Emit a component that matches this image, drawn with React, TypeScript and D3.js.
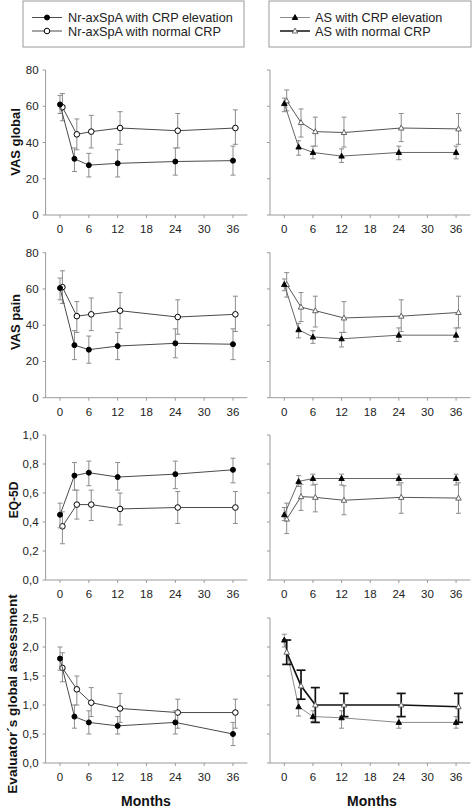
import React from "react";
import * as d3 from "d3";

// ---------- data ----------
const MONTHS = [0, 3, 6, 12, 24, 36];
const NORMAL_SHIFT = 0.5; // plotted slightly right of the nominal month
const X_TICKS = [0, 6, 12, 18, 24, 30, 36];

const LEGEND_LEFT = ["Nr-axSpA with CRP elevation", "Nr-axSpA with normal CRP"];
const LEGEND_RIGHT = ["AS with CRP elevation", "AS with normal CRP"];
const ROW_TITLES = ["VAS global", "VAS pain", "EQ-5D", "Evaluator\u00b4s global assessment"];
const X_TITLE = "Months";

const VAS_TICKS = [0, 20, 40, 60, 80];
const EQ_TICKS = [0, 0.2, 0.4, 0.6, 0.8, 1.0];
const EVAL_TICKS = [0, 0.5, 1.0, 1.5, 2.0, 2.5];

// VAS global
const vasGlobalNrCrp = [61, 31, 27.5, 28.5, 29.5, 30];
const vasGlobalNrCrpLo = [56, 24, 21, 21, 22, 22];
const vasGlobalNrCrpHi = [66, 37, 34, 36, 37, 38];
const vasGlobalNrNorm = [59.5, 44.5, 46, 48, 46.5, 48];
const vasGlobalNrNormLo = [52, 36, 37, 39, 37, 39];
const vasGlobalNrNormHi = [67, 53, 55, 57, 56, 58];
const vasGlobalAsCrp = [61.5, 37.5, 34.5, 32.5, 34.5, 34.5];
const vasGlobalAsCrpLo = [57, 33, 31, 29, 30.5, 31];
const vasGlobalAsCrpHi = [64.5, 41, 38, 36.5, 38, 38];
const vasGlobalAsNorm = [63, 51, 46, 45.5, 48, 47.5];
const vasGlobalAsNormLo = [57.5, 43, 38, 37.5, 40.5, 39];
const vasGlobalAsNormHi = [69, 58.5, 54, 54, 56, 56];

// VAS pain
const vasPainNrCrp = [60.5, 29, 26.5, 28.5, 30, 29.5];
const vasPainNrCrpLo = [54, 21, 19, 21, 22, 21];
const vasPainNrCrpHi = [66, 37, 34, 36, 38, 38];
const vasPainNrNorm = [61, 45, 46, 48, 44.5, 46];
const vasPainNrNormLo = [52, 36, 37, 38, 35, 36.5];
const vasPainNrNormHi = [70, 53, 55, 58, 54, 56];
const vasPainAsCrp = [62.5, 37.5, 33.5, 32.5, 34.5, 34.5];
const vasPainAsCrpLo = [59, 33, 30, 28, 31, 31];
const vasPainAsCrpHi = [65.5, 41, 37, 36, 38.5, 38.5];
const vasPainAsNorm = [62.5, 50, 48, 44, 45, 47];
const vasPainAsNormLo = [55.5, 42, 39, 36, 36.5, 38.5];
const vasPainAsNormHi = [69, 58, 56, 53, 54, 56];

// EQ-5D
const eqNrCrp = [0.45, 0.72, 0.74, 0.71, 0.73, 0.76];
const eqNrCrpLo = [0.36, 0.62, 0.65, 0.62, 0.63, 0.67];
const eqNrCrpHi = [0.53, 0.81, 0.82, 0.81, 0.82, 0.84];
const eqNrNorm = [0.37, 0.52, 0.52, 0.49, 0.5, 0.5];
const eqNrNormLo = [0.25, 0.42, 0.41, 0.38, 0.39, 0.39];
const eqNrNormHi = [0.47, 0.62, 0.62, 0.6, 0.61, 0.61];
const eqAsCrp = [0.45, 0.68, 0.7, 0.7, 0.7, 0.7];
const eqAsCrpLo = [0.41, 0.645, 0.655, 0.655, 0.655, 0.655];
const eqAsCrpHi = [0.5, 0.72, 0.73, 0.73, 0.73, 0.73];
const eqAsNorm = [0.42, 0.575, 0.57, 0.55, 0.57, 0.565];
const eqAsNormLo = [0.32, 0.48, 0.47, 0.45, 0.46, 0.46];
const eqAsNormHi = [0.53, 0.66, 0.66, 0.65, 0.67, 0.67];

// Evaluator's global assessment
const evalNrCrp = [1.8, 0.8, 0.7, 0.64, 0.7, 0.5];
const evalNrCrpLo = [1.6, 0.6, 0.5, 0.5, 0.5, 0.3];
const evalNrCrpHi = [2.0, 1.0, 0.9, 0.8, 0.9, 0.7];
const evalNrNorm = [1.64, 1.27, 1.04, 0.94, 0.87, 0.87];
const evalNrNormLo = [1.4, 1.0, 0.8, 0.7, 0.6, 0.6];
const evalNrNormHi = [1.9, 1.5, 1.3, 1.2, 1.1, 1.1];
const evalAsCrp = [2.12, 0.97, 0.8, 0.78, 0.7, 0.7];
const evalAsCrpLo = [2.0, 0.81, 0.71, 0.6, 0.6, 0.6];
const evalAsCrpHi = [2.22, 1.1, 0.9, 0.9, 0.8, 0.8];
const evalAsNorm = [1.91, 1.33, 1.0, 1.0, 1.0, 0.97];
const evalAsNormLo = [1.7, 1.1, 0.7, 0.8, 0.8, 0.7];
const evalAsNormHi = [2.12, 1.6, 1.3, 1.2, 1.2, 1.2];

// ---------- styles ----------
const FONT = "Arial, 'Liberation Sans', Helvetica, sans-serif";
const AXIS = "#9a9a9a";
const ERR = "#8c8c8c";
const LINE = "#4a4a4a";

type Style = {
  marker: "circle" | "triangle";
  fill: string;
  line: string;
  lineWidth: number;
  err: string;
  errWidth: number;
  cap: number;
};

const sFilledCircle: Style = { marker: "circle", fill: "#000", line: LINE, lineWidth: 1, err: ERR, errWidth: 1, cap: 2.5 };
const sOpenCircle: Style = { marker: "circle", fill: "#fff", line: LINE, lineWidth: 1, err: ERR, errWidth: 1, cap: 2.5 };
const sFilledTri: Style = { marker: "triangle", fill: "#000", line: "#666", lineWidth: 1, err: ERR, errWidth: 1, cap: 2.5 };
const sOpenTri: Style = { marker: "triangle", fill: "#fff", line: "#555", lineWidth: 1, err: ERR, errWidth: 1, cap: 2.5 };
const sFilledTriGray: Style = { marker: "triangle", fill: "#000", line: "#8a8a8a", lineWidth: 1, err: ERR, errWidth: 1, cap: 2.5 };
const sOpenTriBold: Style = { marker: "triangle", fill: "#fff", line: "#111", lineWidth: 1.7, err: "#111", errWidth: 1.7, cap: 4.5 };

type Series = { v: number[]; lo: number[]; hi: number[]; shift: number; style: Style };

type Row = {
  title: string;
  titleSize: number;
  titleX: number;
  titleY: number;
  ticks: number[];
  fmt: (d: number) => string;
  domain: [number, number];
  range: [number, number];
  left: Series[];
  right: Series[];
};

const fmtInt = (d: number) => d3.format("d")(d);
const fmtComma = (dec: number) => (d: number) => d.toFixed(dec).replace(".", ",");

const rows: Row[] = [
  {
    title: ROW_TITLES[0], titleSize: 13, titleX: 20, titleY: 142,
    ticks: VAS_TICKS, fmt: fmtInt, domain: [0, 80], range: [215, 70],
    left: [
      { v: vasGlobalNrNorm, lo: vasGlobalNrNormLo, hi: vasGlobalNrNormHi, shift: NORMAL_SHIFT, style: sOpenCircle },
      { v: vasGlobalNrCrp, lo: vasGlobalNrCrpLo, hi: vasGlobalNrCrpHi, shift: 0, style: sFilledCircle },
    ],
    right: [
      { v: vasGlobalAsNorm, lo: vasGlobalAsNormLo, hi: vasGlobalAsNormHi, shift: NORMAL_SHIFT, style: sOpenTri },
      { v: vasGlobalAsCrp, lo: vasGlobalAsCrpLo, hi: vasGlobalAsCrpHi, shift: 0, style: sFilledTri },
    ],
  },
  {
    title: ROW_TITLES[1], titleSize: 13, titleX: 20, titleY: 322,
    ticks: VAS_TICKS, fmt: fmtInt, domain: [0, 80], range: [397.7, 252.7],
    left: [
      { v: vasPainNrNorm, lo: vasPainNrNormLo, hi: vasPainNrNormHi, shift: NORMAL_SHIFT, style: sOpenCircle },
      { v: vasPainNrCrp, lo: vasPainNrCrpLo, hi: vasPainNrCrpHi, shift: 0, style: sFilledCircle },
    ],
    right: [
      { v: vasPainAsNorm, lo: vasPainAsNormLo, hi: vasPainAsNormHi, shift: NORMAL_SHIFT, style: sOpenTri },
      { v: vasPainAsCrp, lo: vasPainAsCrpLo, hi: vasPainAsCrpHi, shift: 0, style: sFilledTri },
    ],
  },
  {
    title: ROW_TITLES[2], titleSize: 12, titleX: 18, titleY: 500,
    ticks: EQ_TICKS, fmt: fmtComma(1), domain: [0, 1], range: [580, 435],
    left: [
      { v: eqNrNorm, lo: eqNrNormLo, hi: eqNrNormHi, shift: NORMAL_SHIFT, style: sOpenCircle },
      { v: eqNrCrp, lo: eqNrCrpLo, hi: eqNrCrpHi, shift: 0, style: sFilledCircle },
    ],
    right: [
      { v: eqAsNorm, lo: eqAsNormLo, hi: eqAsNormHi, shift: NORMAL_SHIFT, style: sOpenTri },
      { v: eqAsCrp, lo: eqAsCrpLo, hi: eqAsCrpHi, shift: 0, style: sFilledTri },
    ],
  },
  {
    title: ROW_TITLES[3], titleSize: 13.6, titleX: 17, titleY: 694,
    ticks: EVAL_TICKS, fmt: fmtComma(1), domain: [0, 2.5], range: [763, 618],
    left: [
      { v: evalNrNorm, lo: evalNrNormLo, hi: evalNrNormHi, shift: NORMAL_SHIFT, style: sOpenCircle },
      { v: evalNrCrp, lo: evalNrCrpLo, hi: evalNrCrpHi, shift: 0, style: sFilledCircle },
    ],
    right: [
      { v: evalAsCrp, lo: evalAsCrpLo, hi: evalAsCrpHi, shift: 0, style: sFilledTriGray },
      { v: evalAsNorm, lo: evalAsNormLo, hi: evalAsNormHi, shift: NORMAL_SHIFT, style: sOpenTriBold },
    ],
  },
];

const xLeft = d3.scaleLinear().domain([-3, 39]).range([45.6, 247.4]);
const xRight = d3.scaleLinear().domain([-3, 39]).range([270, 470.4]);

const triPath = (x: number, y: number, s: number) =>
  `M${x},${y - s}L${x + s * 0.95},${y + s * 0.7}L${x - s * 0.95},${y + s * 0.7}Z`;

function Marker({ x, y, style }: { x: number; y: number; style: Style }) {
  if (style.marker === "circle") {
    return <circle cx={x} cy={y} r={style.fill === "#000" ? 2.5 : 2.8} fill={style.fill} stroke="#000" strokeWidth={1} />;
  }
  return <path d={triPath(x, y, 2.9)} fill={style.fill} stroke={style.fill === "#000" ? "#000" : "#555"} strokeWidth={0.9} />;
}

function SeriesMarks({ s, x, y }: { s: Series; x: d3.ScaleLinear<number, number>; y: d3.ScaleLinear<number, number> }) {
  const pts = MONTHS.map((m, i) => [x(m + s.shift), y(s.v[i])] as [number, number]);
  const line = d3.line()(pts) || "";
  const st = s.style;
  return (
    <g>
      {MONTHS.map((m, i) => {
        const cx = x(m + s.shift);
        const yt = y(s.hi[i]);
        const yb = y(s.lo[i]);
        return (
          <g key={i} stroke={st.err} strokeWidth={st.errWidth}>
            <line x1={cx} x2={cx} y1={yt} y2={yb} />
            <line x1={cx - st.cap} x2={cx + st.cap} y1={yt} y2={yt} />
            <line x1={cx - st.cap} x2={cx + st.cap} y1={yb} y2={yb} />
          </g>
        );
      })}
      <path d={line} fill="none" stroke={st.line} strokeWidth={st.lineWidth} />
      {pts.map((p, i) => (
        <Marker key={i} x={p[0]} y={p[1]} style={st} />
      ))}
    </g>
  );
}

function Panel({ row, x, series, labels }: { row: Row; x: d3.ScaleLinear<number, number>; series: Series[]; labels: boolean }) {
  const y = d3.scaleLinear().domain(row.domain).range(row.range);
  const [x0, x1] = x.range();
  const [y0, y1] = y.range();
  return (
    <g>
      <line x1={x0} x2={x0} y1={y0} y2={y1} stroke={AXIS} strokeWidth={1} />
      <line x1={x0} x2={x1} y1={y0} y2={y0} stroke={AXIS} strokeWidth={1} />
      {row.ticks.map((t) => (
        <g key={t}>
          <line x1={x0 - 3} x2={x0} y1={y(t)} y2={y(t)} stroke={AXIS} strokeWidth={1} />
          {labels && (
            <text x={x0 - 7} y={y(t) + 4} textAnchor="end" fontSize={11.5} fill="#222" fontFamily={FONT}>
              {row.fmt(t)}
            </text>
          )}
        </g>
      ))}
      {X_TICKS.map((t) => (
        <g key={t}>
          <line x1={x(t)} x2={x(t)} y1={y0} y2={y0 + 3} stroke={AXIS} strokeWidth={1} />
          <text x={x(t)} y={y0 + 18} textAnchor="middle" fontSize={11.5} fill="#222" fontFamily={FONT}>
            {t}
          </text>
        </g>
      ))}
      {series.map((s, i) => (
        <SeriesMarks key={i} s={s} x={x} y={y} />
      ))}
    </g>
  );
}

function Legend({ bx, bw, items, styles, lx, tx }: { bx: number; bw: number; items: string[]; styles: Style[]; lx: number; tx: number }) {
  const ys = [17.5, 31];
  return (
    <g>
      <rect x={bx} y={1} width={bw} height={46} fill="#fff" stroke="#9a9a9a" strokeWidth={1} />
      {items.map((t, i) => (
        <g key={i}>
          <line x1={lx} x2={lx + 30} y1={ys[i]} y2={ys[i]} stroke={styles[i].line} strokeWidth={styles[i].lineWidth} />
          <Marker x={lx + 15} y={ys[i]} style={styles[i]} />
          <text x={tx} y={ys[i] + 4.7} fontSize={12.7} fill="#222" fontFamily={FONT}>
            {t}
          </text>
        </g>
      ))}
    </g>
  );
}

export default function App() {
  return (
    <svg width={472} height={809} style={{ position: "absolute", left: 0, top: 0, background: "#fff" }}>
      <rect x={0} y={0} width={472} height={809} fill="#fff" />
      <Legend bx={23} bw={221} items={LEGEND_LEFT} styles={[sFilledCircle, sOpenCircle]} lx={32} tx={68} />
      <Legend bx={269} bw={202} items={LEGEND_RIGHT} styles={[sFilledTriGray, { ...sOpenTriBold, lineWidth: 1.5 }]} lx={280} tx={315} />
      {rows.map((row, i) => (
        <g key={i}>
          <Panel row={row} x={xLeft} series={row.left} labels={true} />
          <Panel row={row} x={xRight} series={row.right} labels={false} />
          <text
            transform={`translate(${row.titleX},${row.titleY}) rotate(-90)`}
            textAnchor="middle"
            fontSize={row.titleSize}
            fontWeight="bold"
            fill="#111"
            fontFamily={FONT}
          >
            {row.title}
          </text>
        </g>
      ))}
      <text x={146} y={806} textAnchor="middle" fontSize={14} fontWeight="bold" fill="#111" fontFamily={FONT}>
        {X_TITLE}
      </text>
      <text x={372} y={806} textAnchor="middle" fontSize={14} fontWeight="bold" fill="#111" fontFamily={FONT}>
        {X_TITLE}
      </text>
    </svg>
  );
}
